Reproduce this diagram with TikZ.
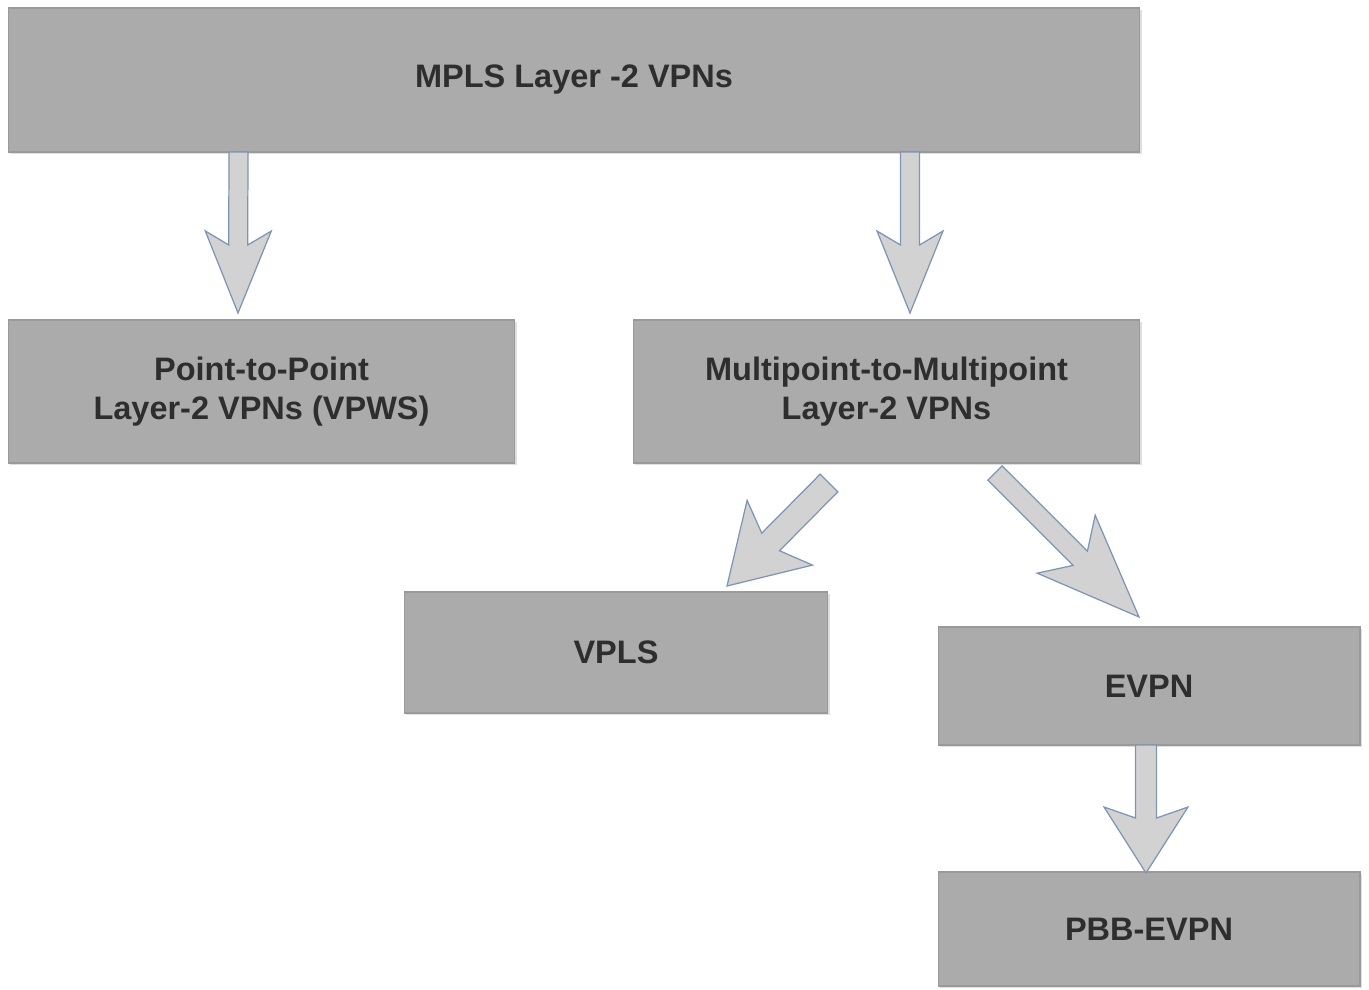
\documentclass[tikz,border=0pt]{standalone}
\usepackage{fontspec}
\setmainfont{Liberation Sans}
\usetikzlibrary{calc,shadows}
\definecolor{boxgray}{HTML}{ABABAB}
\definecolor{boxline}{HTML}{9A9A9A}
\definecolor{arrfill}{HTML}{D2D2D2}
\definecolor{arrline}{HTML}{7E94B4}
\definecolor{txt}{HTML}{2E2E2E}
\newcommand\blkarrow[6]{%
\draw[blk] let \p1=($(#2)-(#1)$), \n1={atan2(\y1,\x1)} in
 ($(#1)+(\n1+90:#3)$) -- ($(#2)+(\n1+180:#6)+(\n1+90:#3)$) -- ($(#2)+(\n1+180:#5)+(\n1+90:#4)$)
 -- (#2) -- ($(#2)+(\n1+180:#5)+(\n1-90:#4)$) -- ($(#2)+(\n1+180:#6)+(\n1-90:#3)$)
 -- ($(#1)+(\n1-90:#3)$) -- cycle;}

\begin{document}
\begin{tikzpicture}[x=0.02cm,y=0.02cm,
  box/.style={rectangle,fill=boxgray,draw=boxline,line width=0.6pt,inner sep=0pt,
    text=txt,font=\fontsize{18.5}{21.8}\selectfont\bfseries,align=center,
    drop shadow={opacity=0.25,shadow xshift=1.2pt,shadow yshift=-1.2pt}},
  blk/.style={fill=arrfill,draw=arrline,line width=0.7pt,line join=miter}]
\useasboundingbox (0,0) rectangle (1369,-990);

\node[box,minimum width=22.64cm,minimum height=2.88cm] (mpls) at (574,-80) {MPLS Layer -2 VPNs};
\node[box,minimum width=10.14cm,minimum height=2.86cm] (ptp) at (261.5,-391.5) {Point-to-Point\\Layer-2 VPNs (VPWS)};
\node[box,minimum width=10.14cm,minimum height=2.86cm] (mptmp) at (886.5,-391.5) {Multipoint-to-Multipoint\\Layer-2 VPNs};
\node[box,minimum width=8.48cm,minimum height=2.42cm] (vpls) at (616,-652.5) {VPLS};
\node[box,minimum width=8.44cm,minimum height=2.36cm] (evpn) at (1149,-686) {EVPN};
\node[box,minimum width=8.44cm,minimum height=2.28cm] (pbb) at (1149,-929) {PBB-EVPN};

\coordinate (a1s) at (238.5,-152); \coordinate (a1t) at (238,-313);
\coordinate (a2s) at (910,-152);   \coordinate (a2t) at (910,-313);
\coordinate (a3s) at (829,-483);   \coordinate (a3t) at (727,-586);
\coordinate (a4s) at (995,-473);   \coordinate (a4t) at (1139,-617);
\coordinate (a5s) at (1146,-745);  \coordinate (a5t) at (1146,-873);

\blkarrow{a1s}{a1t}{9.5}{33}{82}{68}
\blkarrow{a2s}{a2t}{9.5}{33}{82}{68}
\blkarrow{a3s}{a3t}{12.5}{46}{75}{62}
\blkarrow{a4s}{a4t}{10}{41}{103}{83}
\blkarrow{a5s}{a5t}{10.5}{42}{66}{55}
\end{tikzpicture}
\end{document}
